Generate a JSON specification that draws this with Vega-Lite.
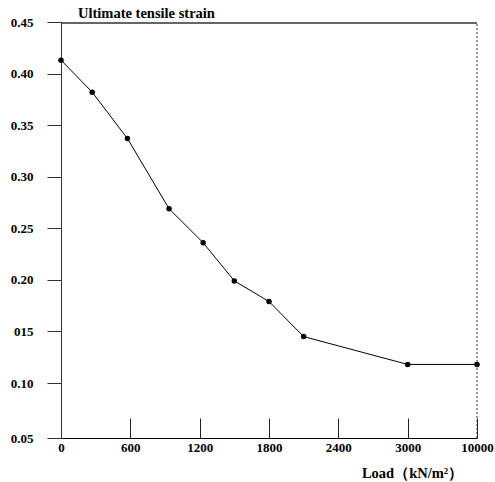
{
  "$schema": "https://vega.github.io/schema/vega-lite/v6.json",
  "width": 416,
  "height": 416,
  "autosize": {"type": "none"},
  "padding": {"left": 61, "top": 22, "right": 18, "bottom": 44},
  "background": "white",
  "config": {
    "view": {"stroke": null},
    "axis": {
      "grid": false,
      "labelFont": "Liberation Serif",
      "labelFontWeight": "bold",
      "labelFontSize": 13,
      "labelColor": "#000",
      "titleFont": "Liberation Serif",
      "titleFontWeight": "bold",
      "titleColor": "#000"
    }
  },
  "title": {
    "text": "Ultimate tensile strain",
    "anchor": "start",
    "frame": "group",
    "dx": 17,
    "dy": 7,
    "offset": 2,
    "font": "Liberation Serif",
    "fontWeight": "bold",
    "fontSize": 14.5,
    "color": "#000"
  },
  "data": {
    "values": [
      {"load": 0, "strain": 0.413},
      {"load": 270, "strain": 0.382},
      {"load": 575, "strain": 0.337},
      {"load": 935, "strain": 0.269},
      {"load": 1230, "strain": 0.236},
      {"load": 1500, "strain": 0.199},
      {"load": 1800, "strain": 0.179},
      {"load": 2100, "strain": 0.145},
      {"load": 3000, "strain": 0.118},
      {"load": 10000, "strain": 0.118}
    ]
  },
  "layer": [
    {
      "mark": {"type": "line", "color": "#000", "strokeWidth": 1},
      "encoding": {
        "x": {
          "field": "load",
          "type": "quantitative",
          "scale": {
            "domain": [0, 600, 1200, 1800, 2400, 3000, 10000],
            "range": [0, 69.33, 138.67, 208, 277.33, 346.67, 416],
            "nice": false,
            "zero": false
          },
          "axis": {
            "values": [0, 600, 1200, 1800, 2400, 3000, 10000],
            "format": "d",
            "title": "Load（kN/m²）",
            "titleFontSize": 14.5,
            "titleX": 351,
            "titleY": 35,
            "titleAlign": "center",
            "titleBaseline": "middle",
            "domainColor": "#000",
            "tickColor": "#222",
            "tickSize": -20,
            "labelPadding": 23,
            "labelFlush": false,
            "labelOverlap": false
          }
        },
        "y": {
          "field": "strain",
          "type": "quantitative",
          "scale": {
            "domain": [0.05, 0.10, 0.45],
            "range": [416, 361, 0],
            "nice": false,
            "zero": false
          },
          "axis": {
            "values": [0.05, 0.10, 0.15, 0.20, 0.25, 0.30, 0.35, 0.40, 0.45],
            "labelExpr": "abs(datum.value - 0.15) < 0.001 ? '015' : format(datum.value, '.2f')",
            "title": null,
            "domainColor": "#333",
            "tickColor": "#333",
            "tickSize": 14,
            "labelPadding": 14,
            "labelFlush": false,
            "labelOverlap": false
          }
        }
      }
    },
    {
      "mark": {"type": "point", "filled": true, "color": "#000", "size": 30, "opacity": 1},
      "encoding": {
        "x": {"field": "load", "type": "quantitative"},
        "y": {"field": "strain", "type": "quantitative"}
      }
    },
    {
      "data": {"values": [{"from": 0, "to": 10000, "edge": 0.449}]},
      "mark": {"type": "rule", "color": "#333", "strokeWidth": 1.5},
      "encoding": {
        "x": {"field": "from", "type": "quantitative"},
        "x2": {"field": "to"},
        "y": {"field": "edge", "type": "quantitative"}
      }
    },
    {
      "data": {"values": [{"edge": 10000, "bottom": 0.05, "top": 0.45}]},
      "mark": {"type": "rule", "color": "#333", "strokeWidth": 1, "strokeDash": [2, 2]},
      "encoding": {
        "x": {"field": "edge", "type": "quantitative"},
        "y": {"field": "bottom", "type": "quantitative"},
        "y2": {"field": "top"}
      }
    }
  ]
}
